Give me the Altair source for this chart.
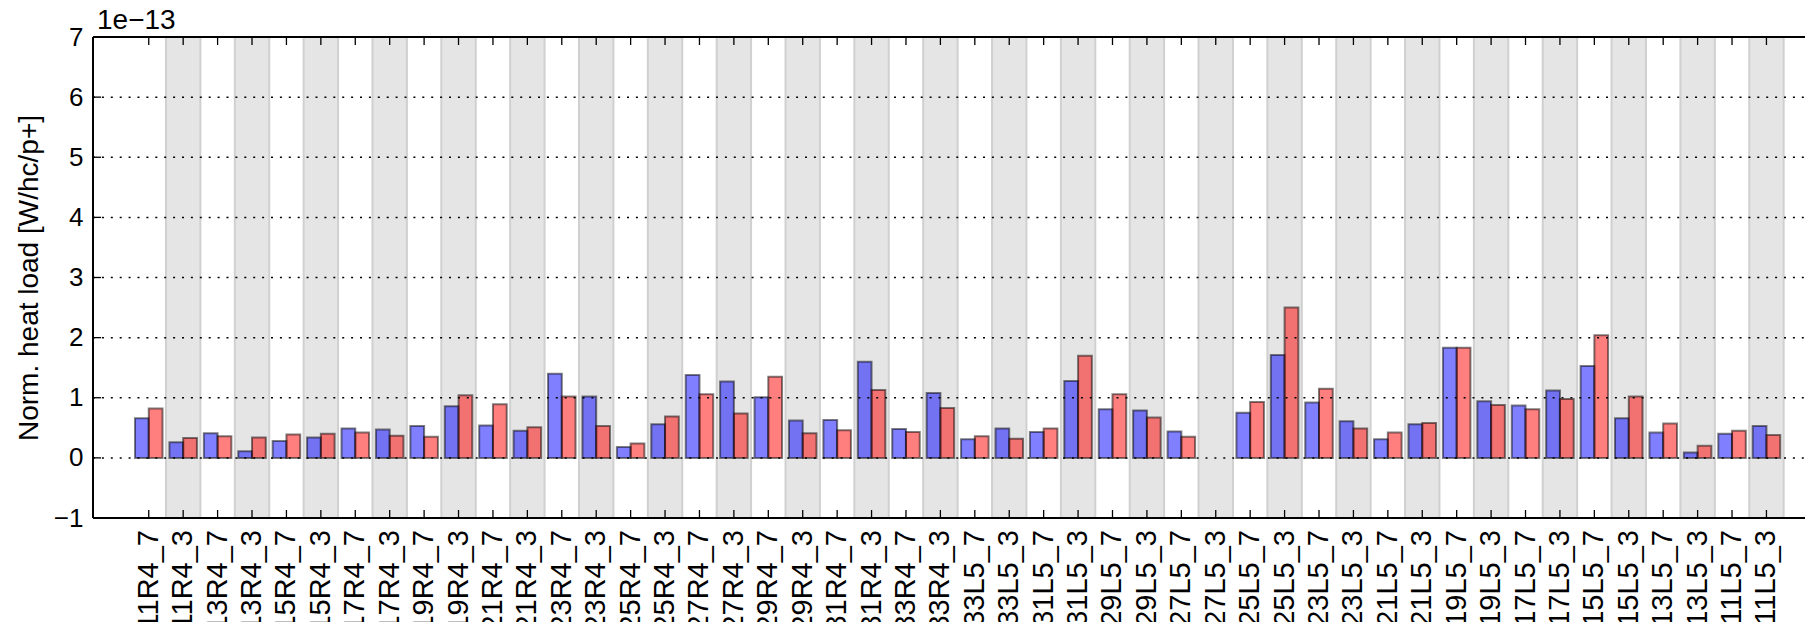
import altair as alt
import pandas as pd

# Categories (x tick labels)
cats = ["11R4_7", "11R4_3", "13R4_7", "13R4_3", "15R4_7", "15R4_3", "17R4_7", "17R4_3",
        "19R4_7", "19R4_3", "21R4_7", "21R4_3", "23R4_7", "23R4_3", "25R4_7", "25R4_3",
        "27R4_7", "27R4_3", "29R4_7", "29R4_3", "31R4_7", "31R4_3", "33R4_7", "33R4_3",
        "33L5_7", "33L5_3", "31L5_7", "31L5_3", "29L5_7", "29L5_3", "27L5_7", "27L5_3",
        "25L5_7", "25L5_3", "23L5_7", "23L5_3", "21L5_7", "21L5_3", "19L5_7", "19L5_3",
        "17L5_7", "17L5_3", "15L5_7", "15L5_3", "13L5_7", "13L5_3", "11L5_7", "11L5_3"]

# Normalized heat load, in units of 1e-13 W/hc/p+
blue = [0.66, 0.26, 0.41, 0.11, 0.28, 0.34, 0.49, 0.47, 0.53, 0.86,
        0.54, 0.45, 1.40, 1.02, 0.18, 0.56, 1.38, 1.27, 1.01, 0.62,
        0.63, 1.60, 0.48, 1.08, 0.31, 0.49, 0.43, 1.28, 0.81, 0.79,
        0.44, None, 0.75, 1.71, 0.92, 0.61, 0.31, 0.56, 1.83, 0.94,
        0.87, 1.12, 1.53, 0.66, 0.42, 0.09, 0.40, 0.53]
red = [0.82, 0.33, 0.36, 0.34, 0.39, 0.40, 0.42, 0.37, 0.35, 1.04,
       0.89, 0.51, 1.02, 0.53, 0.24, 0.69, 1.06, 0.74, 1.35, 0.41,
       0.46, 1.13, 0.43, 0.83, 0.36, 0.32, 0.49, 1.70, 1.06, 0.67,
       0.35, None, 0.93, 2.50, 1.15, 0.49, 0.42, 0.58, 1.83, 0.88,
       0.81, 0.98, 2.04, 1.02, 0.57, 0.20, 0.45, 0.38]

y_ticks = [-1, 0, 1, 2, 3, 4, 5, 6, 7]
grid_vals = [0, 1, 2, 3, 4, 5, 6]

FONT = "Liberation Sans"
W, H = 1712, 481

df = pd.DataFrame({"idx": list(range(len(cats))), "cat": cats,
                   "blue": pd.array(blue, dtype="Float64").astype(float),
                   "red": pd.array(red, dtype="Float64").astype(float)})

xs = alt.Scale(domain=[-1.62, 48.12], nice=False, zero=False)
ys = alt.Scale(domain=[-1, 7], nice=False, zero=False)

yaxis = alt.Axis(values=y_ticks, format="d", labelPadding=10, titlePadding=10,
                 labelFlush=False, labelOverlap=False, labelFontSize=26, titleFontSize=28,
                 title="Norm. heat load [W/hc/p+]")

base = alt.Chart(df)

bands = base.transform_filter("datum.idx % 2 == 1").transform_calculate(
    x0="datum.idx - 0.5", x1="datum.idx + 0.5"
).mark_rect(fill="#e5e5e5", stroke="#d0d0d0", strokeWidth=2).encode(
    x=alt.X("x0:Q", scale=xs, axis=None),
    x2="x1:Q",
    y=alt.YDatum(-1, type="quantitative", scale=ys, axis=yaxis),
    y2=alt.Y2Datum(7),
)

bars = base.transform_fold(["blue", "red"], as_=["series", "val"]).transform_filter(
    "isValid(datum.val) && isFinite(datum.val)"
).transform_calculate(
    x0="datum.series == 'blue' ? datum.idx - 0.4 : datum.idx",
    x1="datum.series == 'blue' ? datum.idx : datum.idx + 0.4",
).mark_rect(fillOpacity=0.5, stroke="black", strokeOpacity=0.5, strokeWidth=2).encode(
    x=alt.X("x0:Q", scale=xs, axis=None),
    x2="x1:Q",
    y=alt.Y("val:Q", scale=ys),
    y2=alt.Y2Datum(0),
    color=alt.Color("series:N", scale=alt.Scale(domain=["blue", "red"], range=["#0000ff", "#ff0000"]),
                    legend=None),
)

grid = alt.Chart(pd.DataFrame({"g": grid_vals})).mark_rule(
    color="black", strokeDash=[2, 6.9], strokeWidth=1.5
).encode(y=alt.Y("g:Q", scale=ys), x=alt.value(0), x2=alt.value(W))

xticks_bottom = base.mark_rule(color="black", strokeWidth=1.3).encode(
    x=alt.X("idx:Q", scale=xs, axis=None), y=alt.value(H - 8), y2=alt.value(H))
xticks_top = base.mark_rule(color="black", strokeWidth=1.3).encode(
    x=alt.X("idx:Q", scale=xs, axis=None), y=alt.value(0), y2=alt.value(8))
yticks = alt.Chart(pd.DataFrame({"t": y_ticks})).mark_rule(color="black", strokeWidth=1.3).encode(
    y=alt.Y("t:Q", scale=ys), x=alt.value(0), x2=alt.value(8))

# category tick labels, rotated, below the plot
xlabels = base.mark_text(
    font=FONT, fontSize=29, angle=270, align="right", baseline="middle", color="black"
).encode(x=alt.X("idx:Q", scale=xs, axis=None), y=alt.value(H + 12), text="cat:N")

one = pd.DataFrame({"a": [0]})
spine_left = alt.Chart(one).mark_rule(color="black", strokeWidth=2).encode(
    x=alt.value(0), y=alt.value(0), y2=alt.value(H))
spine_top = alt.Chart(one).mark_rule(color="black", strokeWidth=2).encode(
    x=alt.value(0), x2=alt.value(W + 10), y=alt.value(0))
spine_bottom = alt.Chart(one).mark_rule(color="black", strokeWidth=2).encode(
    x=alt.value(0), x2=alt.value(W + 10), y=alt.value(H))

offset_text = alt.Chart(one).mark_text(
    text="1e\u221213", font=FONT, fontSize=28, align="left", baseline="alphabetic", color="black"
).encode(x=alt.value(4), y=alt.value(-8))

chart = alt.layer(
    bands, bars, grid, xticks_bottom, xticks_top, yticks,
    spine_left, spine_top, spine_bottom, offset_text, xlabels
).properties(
    width=W, height=H,
    autosize=alt.AutoSizeParams(type="none"),
    padding={"left": 85, "top": 29, "right": 0, "bottom": 104},
).configure_view(
    strokeWidth=0
).configure_axis(
    labelFont=FONT, labelColor="black",
    titleFont=FONT, titleFontWeight="normal", titleColor="black",
    domain=False, ticks=False, tickSize=0, grid=False
)

chart.save("out.html", embed_options={"renderer": "svg", "actions": False})
